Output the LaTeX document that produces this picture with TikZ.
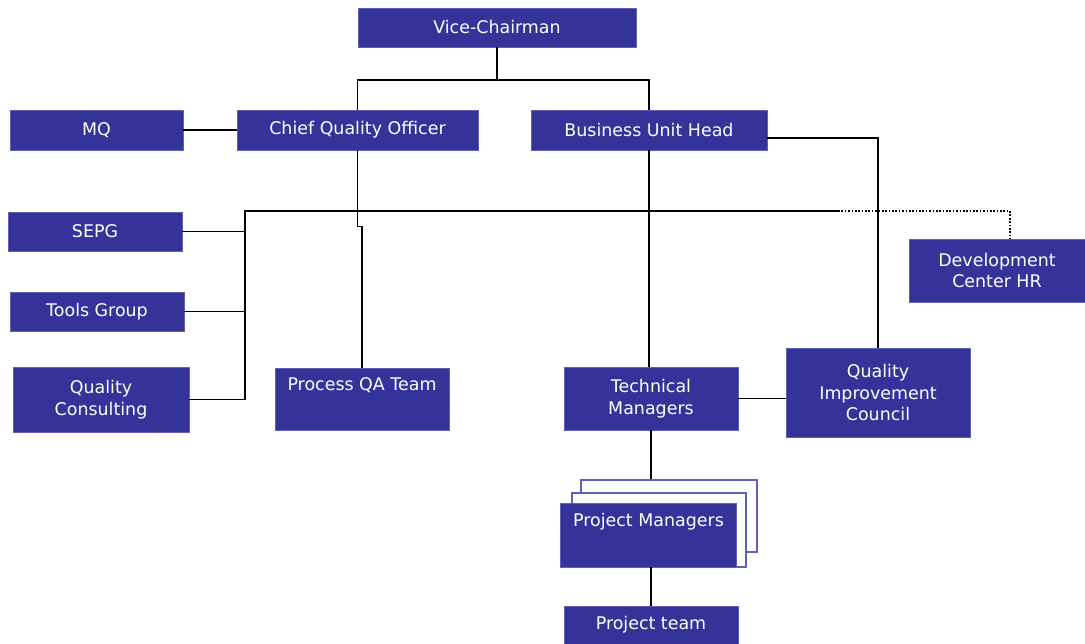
\documentclass[tikz,border=0pt]{standalone}
\usepackage{fontspec}
\setmainfont{DejaVu Sans}
\usepackage{tikz}
\usetikzlibrary{positioning}
\definecolor{orgblue}{RGB}{51,51,153}
\definecolor{orgedge}{RGB}{95,95,180}
\tikzset{>=latex}
\tikzset{
  orgbox/.style 2 args={rectangle, fill=orgblue, draw=orgedge, line width=0.4pt,
    text=white, align=center, inner sep=2pt,
    font=\fontsize{12.4}{15.6}\selectfont,
    minimum width=#1, minimum height=#2},
  raised/.style={text depth=21pt},
  stackbox/.style 2 args={rectangle, fill=white, draw=orgedge, line width=0.8pt,
    minimum width=#1, minimum height=#2},
  link/.style={line width=1pt, black},
  dottedlink/.style={line width=1pt, black, dash pattern=on 1.2pt off 1.2pt}
}
\begin{document}
\begin{tikzpicture}[x=0.025cm, y=-0.025cm]
  \useasboundingbox (0,0) rectangle (1085,644);
  % top of the chart
  \node[orgbox={6.95cm}{0.975cm}] (vc) at (497,27.5) {Vice-Chairman};
  \node[orgbox={4.325cm}{1cm}] (mq) at (96.5,130) {MQ};
  \node[orgbox={6.025cm}{1cm}] (cqo) at (357.5,130) {Chief Quality Officer};
  \node[orgbox={5.9cm}{1cm}] (buh) at (649,130) {Business Unit Head};
  % quality groups on the left
  \node[orgbox={4.35cm}{0.975cm}] (sepg) at (95,231.5) {SEPG};
  \node[orgbox={4.35cm}{0.975cm}] (tools) at (97,311.5) {Tools Group};
  \node[orgbox={4.4cm}{1.625cm}] (qc) at (101,399.5) {Quality\\Consulting};
  \node[orgbox={4.35cm}{1.55cm}, raised] (pqa) at (362,399) {Process QA Team};
  % delivery side
  \node[orgbox={4.35cm}{1.575cm}] (tm) at (651,398.5) {Technical\\Managers};
  \node[orgbox={4.6cm}{2.225cm}] (qic) at (878,392.5) {Quality\\Improvement\\Council};
  \node[orgbox={4.4cm}{1.575cm}] (dchr) at (997,270.5) {Development\\Center HR};
  \node[stackbox={4.4cm}{1.8cm}] (pm2) at (669,516) {};
  \node[stackbox={4.35cm}{1.85cm}] (pm1) at (659,530) {};
  \node[orgbox={4.4cm}{1.6cm}, raised] (pm) at (648.5,535) {Project Managers};
  \node[orgbox={4.35cm}{0.95cm}] (pt) at (651,625) {Project team};

  \coordinate (vcbus) at (497,80);
  \coordinate (grp) at (245,211);
  \coordinate (grpend) at (838,211);
  \coordinate (hrtop) at (1010,239);

  \draw[link] (vc.south) -- (vcbus) -| (cqo.north);
  \draw[link] (vcbus) -| (buh.north);
  \draw[link] (mq) -- (cqo);
  \draw[link] (cqo.south) -- ++(0,76) -| (pqa.north);
  % group bracket
  \draw[link] (grpend) -- (grp) -- (grp |- qc.east);
  \draw[link] (sepg.east) -- (sepg.east -| grp);
  \draw[link] (tools.east) -- (tools.east -| grp);
  \draw[link] (qc.east) -- (qc.east -| grp);
  \draw[dottedlink] (grpend) -| (hrtop);
  \draw[link] ([yshift=-0.2cm]buh.east) -| (qic.north);
  \draw[link] (buh.south) -- (buh.south |- tm.north);
  \draw[link] (tm.east) -- (tm.east -| qic.west);
  \draw[link] (tm.south) -- (tm.south |- pm2.north);
  \draw[link] (tm.south |- pm.south) -- (tm.south |- pt.north);
\end{tikzpicture}
\end{document}
